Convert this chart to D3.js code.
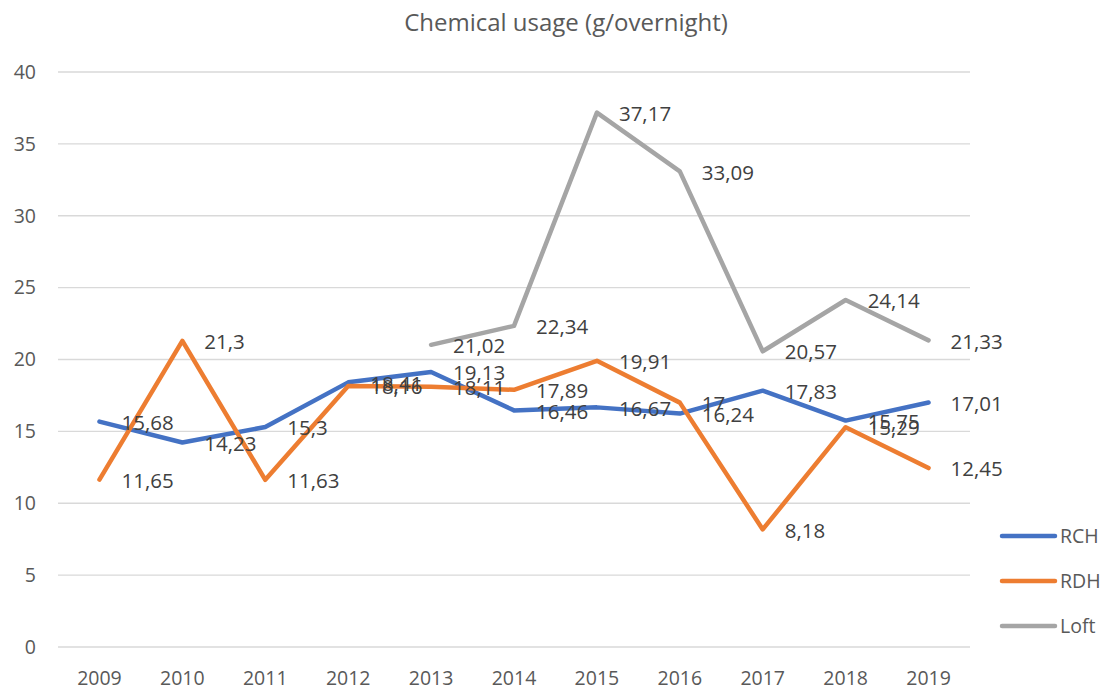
<!DOCTYPE html>
<html><head><meta charset="utf-8">
<script src="https://cdn.jsdelivr.net/npm/d3@7"></script>
<style>body{margin:0;background:#fff;} text{font-family:"Open Sans","Noto Sans",sans-serif;}</style>
</head><body><svg id="c" width="1109" height="691"></svg>
<script>
const years = ["2009","2010","2011","2012","2013","2014","2015","2016","2017","2018","2019"];
const rch = [15.68,14.23,15.3,18.41,19.13,16.46,16.67,16.24,17.83,15.75,17.01];
const rdh = [11.65,21.3,11.63,18.16,18.11,17.89,19.91,17,8.18,15.29,12.45];
const loft = [null,null,null,null,21.02,22.34,37.17,33.09,20.57,24.14,21.33];
const yTicks = [0,5,10,15,20,25,30,35,40];
const seriesNames = ["RCH","RDH","Loft"];
const colors = ["#4472C4","#ED7D31","#A5A5A5"];

const svg = d3.select("#c");
const x = d3.scaleBand().domain(years).range([58,970]);
const y = d3.scaleLinear().domain([0,40]).range([647,72]);
const fmt = v => String(v).replace(".", ",");

svg.append("text").attr("x",566).attr("y",31).attr("text-anchor","middle")
  .attr("font-size",24).attr("fill","#595959").text("Chemical usage (g/overnight)");

const g = svg.append("g");
g.selectAll("line.grid").data(yTicks).join("line")
  .attr("x1",58).attr("x2",970).attr("y1",d=>y(d)).attr("y2",d=>y(d))
  .attr("stroke","#D9D9D9").attr("stroke-width",1.3);
g.selectAll("text.yt").data(yTicks).join("text")
  .attr("x",36).attr("y",d=>y(d)).attr("dy","0.35em").attr("text-anchor","end")
  .attr("font-size",19.5).attr("fill","#595959").text(d=>d);
g.selectAll("text.xt").data(years).join("text")
  .attr("x",d=>x(d)+x.bandwidth()/2).attr("y",678).attr("dy","0.35em").attr("text-anchor","middle")
  .attr("font-size",19.5).attr("fill","#595959").text(d=>d);

const data = [rch, rdh, loft];
const line = d3.line().defined(d=>d.v!=null).x(d=>x(d.k)+x.bandwidth()/2).y(d=>y(d.v));
data.forEach((arr,i)=>{
  const pts = years.map((k,j)=>({k, v:arr[j]}));
  svg.append("path").datum(pts).attr("d",line).attr("fill","none")
    .attr("stroke",colors[i]).attr("stroke-width",4.5).attr("stroke-linejoin","round").attr("stroke-linecap","round");
});
data.forEach((arr,i)=>{
  const pts = years.map((k,j)=>({k, v:arr[j]})).filter(d=>d.v!=null);
  svg.append("g").selectAll("text").data(pts).join("text")
    .attr("x",d=>x(d.k)+x.bandwidth()/2+22).attr("y",d=>y(d.v)+1).attr("dy","0.35em")
    .attr("font-size",20.5).attr("fill","#404040").text(d=>fmt(d.v));
});

const lg = svg.append("g");
seriesNames.forEach((n,i)=>{
  const yy = 536 + i*45;
  lg.append("line").attr("x1",1002).attr("x2",1055).attr("y1",yy).attr("y2",yy)
    .attr("stroke",colors[i]).attr("stroke-width",4.5).attr("stroke-linecap","round");
  lg.append("text").attr("x",1060).attr("y",yy).attr("dy","0.35em")
    .attr("font-size",19.5).attr("fill","#595959").text(n);
});
</script></body></html>
